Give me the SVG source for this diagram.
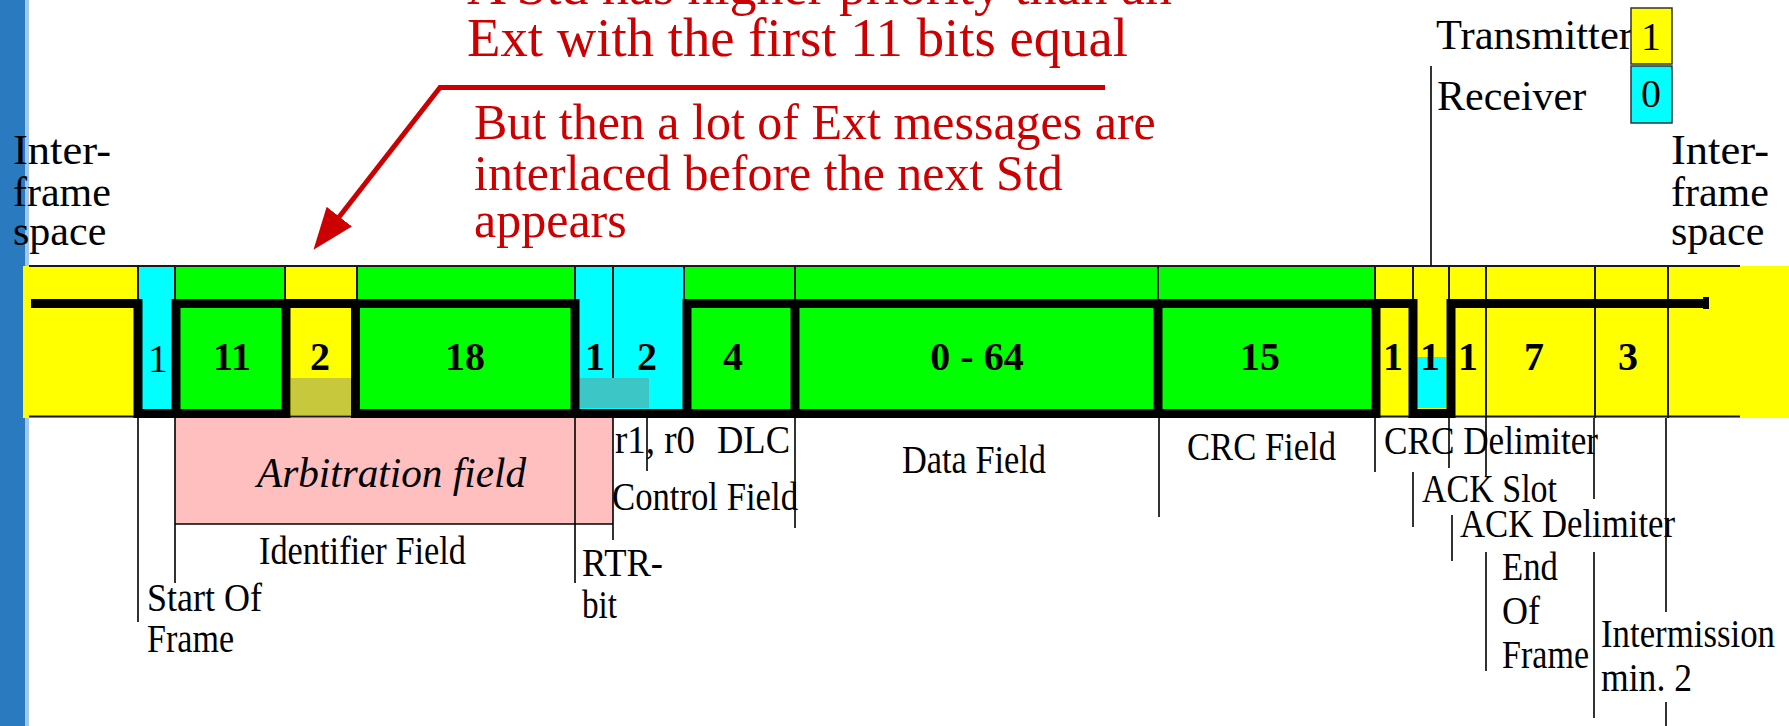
<svg xmlns="http://www.w3.org/2000/svg" width="1789" height="726" viewBox="0 0 1789 726">
<style>
  text { font-family: "Liberation Serif", "Times New Roman", serif; }
  .red { fill: #cc0000; }
  .lbl { font-size: 41px; fill: #000; }
  .top { font-size: 42px; fill: #000; }
  .num { font-size: 40px; font-weight: bold; text-anchor: middle; fill: #000; }
  .numr { font-size: 40px; text-anchor: middle; fill: #000; }
  .thin { stroke: #1a1a1a; stroke-width: 2; fill: none; }
  .lead { stroke: #000; stroke-width: 1.6; fill: none; }
  .sig { stroke: #000; stroke-width: 9; fill: none; stroke-linejoin: miter; stroke-linecap: butt; }
  .ylw { fill: #ffff00; }
  .cyn { fill: #00ffff; }
  .grn { fill: #00ff00; }
</style>
<defs>
  <marker id="redHead" markerUnits="userSpaceOnUse" viewBox="0 0 42 32" markerWidth="42" markerHeight="32" refX="33" refY="16" orient="auto">
    <path d="M0,0 L42,16 L0,32 Z" fill="#cc0000"/>
  </marker>
</defs>

<rect width="1789" height="726" fill="#ffffff"/>

<!-- slide edge strip -->
<g id="edge">
  <rect x="0" y="0" width="25" height="726" fill="#2a7abf"/>
  <rect x="25" y="0" width="4" height="726" fill="#a3c6e9"/>
</g>

<!-- bit field cells -->
<g id="cells">
  <rect id="ifs-left" class="ylw" x="23" y="266" width="115" height="152"/>
  <rect id="sof" class="cyn" x="138" y="266" width="37" height="152"/>
  <rect id="id11" class="grn" x="175" y="266" width="110" height="152"/>
  <g id="srr-ide">
    <rect class="ylw" x="285" y="266" width="72" height="152"/>
    <rect x="291" y="378" width="60" height="37" fill="#c8c83c"/>
  </g>
  <rect id="id18" class="grn" x="357" y="266" width="218" height="152"/>
  <g id="rtr-r1r0">
    <rect class="cyn" x="575" y="266" width="109" height="152"/>
    <rect x="579" y="378" width="70" height="30" fill="#3cc6c6"/>
  </g>
  <rect id="dlc-data-crc" class="grn" x="684" y="266" width="691" height="152"/>
  <g id="tail">
    <rect class="ylw" x="1375" y="266" width="414" height="152"/>
    <rect class="cyn" x="1417" y="357" width="29" height="51"/>
  </g>
</g>

<!-- band outline and cell dividers -->
<g id="band-lines">
  <path class="thin" d="M29,266 H1740 M29,416.5 H1740"/>
  <path class="thin" d="M138,266 V300 M175,266 V300 M285,266 V300 M357,266 V300 M575,266 V300 M684,266 V300 M795,266 V300 M1158,266 V300 M1375,266 V300"/>
  <path class="thin" d="M613,266 V378 M1413,266 V418 M1449,266 V418 M1486,266 V418 M1595,266 V418 M1668,266 V418"/>
</g>

<!-- bus level trace -->
<g id="signal">
  <path class="sig" d="M31,303.5 H138 V413.5 H176 V303.5 H575 V413.5 H687 V303.5 H1413 V413.5 H1451 V303.5 H1708"/>
  <path class="sig" d="M176,413.5 H286 V303.5"/>
  <path class="sig" d="M355.5,303.5 V413.5 H1376 V303.5"/>
  <path class="sig" d="M795,303.5 V413.5 M1158,303.5 V413.5"/>
  <rect x="1703" y="297" width="6" height="12" fill="#000"/>
</g>

<!-- bit counts -->
<g id="bit-counts">
  <text class="numr" x="158" y="372">1</text>
  <text class="num" x="232" y="370">11</text>
  <text class="num" x="320" y="370">2</text>
  <text class="num" x="465" y="370">18</text>
  <text class="num" x="595" y="370">1</text>
  <text class="num" x="647" y="370">2</text>
  <text class="num" x="733" y="370">4</text>
  <text class="num" x="977" y="370">0 - 64</text>
  <text class="num" x="1260" y="370">15</text>
  <text class="num" x="1393" y="370">1</text>
  <text class="num" x="1430" y="370">1</text>
  <text class="num" x="1468" y="370">1</text>
  <text class="num" x="1534" y="370">7</text>
  <text class="num" x="1628" y="370">3</text>
</g>

<!-- arbitration field block -->
<g id="arbitration">
  <rect x="175" y="418" width="438" height="106" fill="#ffbfbf"/>
  <text x="257" y="487" font-size="42" font-style="italic" textLength="269" lengthAdjust="spacingAndGlyphs">Arbitration field</text>
</g>

<!-- leader lines and annotation arrow -->
<g id="connectors">
  <path class="lead" d="M175,524 H613"/>
  <path class="lead" d="M138,418 V622 M175,418 V583 M575,418 V583 M613,418 V540 M647,418 V471 M795,418 V528 M1159,418 V517 M1375,418 V472"/>
  <path class="lead" d="M1413,472 V527 M1449,418 V468 M1452,515 V561 M1486,418 V477 M1486,552 V671 M1594,418 V499 M1594,552 V718 M1666,418 V612 M1666,702 V726"/>
  <path class="lead" d="M1431,66 V266"/>
  <path d="M1105,87.5 H440 L319,242.7" fill="none" stroke="#cc0000" stroke-width="5" stroke-linejoin="miter" marker-end="url(#redHead)"/>
</g>

<!-- field names -->
<g id="labels">
  <text class="lbl" x="259" y="564" textLength="207" lengthAdjust="spacingAndGlyphs">Identifier Field</text>
  <text class="lbl" x="147" y="611" textLength="115" lengthAdjust="spacingAndGlyphs">Start Of</text>
  <text class="lbl" x="147" y="652" textLength="87" lengthAdjust="spacingAndGlyphs">Frame</text>
  <text class="lbl" x="582" y="576" textLength="81" lengthAdjust="spacingAndGlyphs">RTR-</text>
  <text class="lbl" x="582" y="618" textLength="35" lengthAdjust="spacingAndGlyphs">bit</text>
  <text class="lbl" x="615" y="453" textLength="80" lengthAdjust="spacingAndGlyphs">r1, r0</text>
  <text class="lbl" x="717" y="453" textLength="73" lengthAdjust="spacingAndGlyphs">DLC</text>
  <text class="lbl" x="612" y="510" textLength="186" lengthAdjust="spacingAndGlyphs">Control Field</text>
  <text class="lbl" x="902" y="473" textLength="144" lengthAdjust="spacingAndGlyphs">Data Field</text>
  <text class="lbl" x="1187" y="460" textLength="149" lengthAdjust="spacingAndGlyphs">CRC Field</text>
  <text class="lbl" x="1384" y="454" textLength="214" lengthAdjust="spacingAndGlyphs">CRC Delimiter</text>
  <text class="lbl" x="1422" y="502" textLength="135" lengthAdjust="spacingAndGlyphs">ACK Slot</text>
  <text class="lbl" x="1460" y="537" textLength="215" lengthAdjust="spacingAndGlyphs">ACK Delimiter</text>
  <text class="lbl" x="1502" y="580" textLength="56" lengthAdjust="spacingAndGlyphs">End</text>
  <text class="lbl" x="1502" y="624" textLength="38" lengthAdjust="spacingAndGlyphs">Of</text>
  <text class="lbl" x="1502" y="668" textLength="87" lengthAdjust="spacingAndGlyphs">Frame</text>
  <text class="lbl" x="1601" y="647" textLength="174" lengthAdjust="spacingAndGlyphs">Intermission</text>
  <text class="lbl" x="1601" y="691" textLength="91" lengthAdjust="spacingAndGlyphs">min. 2</text>
</g>

<g id="ifs-left-label">
  <text class="top" x="13" y="164" textLength="98" lengthAdjust="spacingAndGlyphs">Inter-</text>
  <text class="top" x="13" y="206">frame</text>
  <text class="top" x="13" y="245">space</text>
</g>
<g id="ifs-right-label">
  <text class="top" x="1671" y="164" textLength="98" lengthAdjust="spacingAndGlyphs">Inter-</text>
  <text class="top" x="1671" y="206">frame</text>
  <text class="top" x="1671" y="245">space</text>
</g>

<!-- level legend -->
<g id="legend">
  <text class="top" x="1436" y="49" textLength="197" lengthAdjust="spacingAndGlyphs">Transmitter</text>
  <text class="top" x="1437" y="110">Receiver</text>
  <rect x="1631" y="8" width="41" height="56" fill="#ffff00" stroke="#333" stroke-width="1.5"/>
  <text class="numr" x="1651" y="50" font-size="38">1</text>
  <rect x="1631" y="66" width="41" height="57" fill="#00ffff" stroke="#333" stroke-width="1.5"/>
  <text class="numr" x="1651" y="107" font-size="38">0</text>
</g>

<!-- priority note -->
<g id="note-priority">
  <text class="red" x="467" y="4" font-size="54">A Std has higher priority than an</text>
  <text class="red" x="467" y="56" font-size="54" textLength="661" lengthAdjust="spacingAndGlyphs">Ext with the first 11 bits equal</text>
</g>
<g id="note-interlace">
  <text class="red" x="474" y="139" font-size="50">But then a lot of Ext messages are</text>
  <text class="red" x="474" y="190" font-size="50">interlaced before the next Std</text>
  <text class="red" x="474" y="237" font-size="50">appears</text>
</g>
</svg>
